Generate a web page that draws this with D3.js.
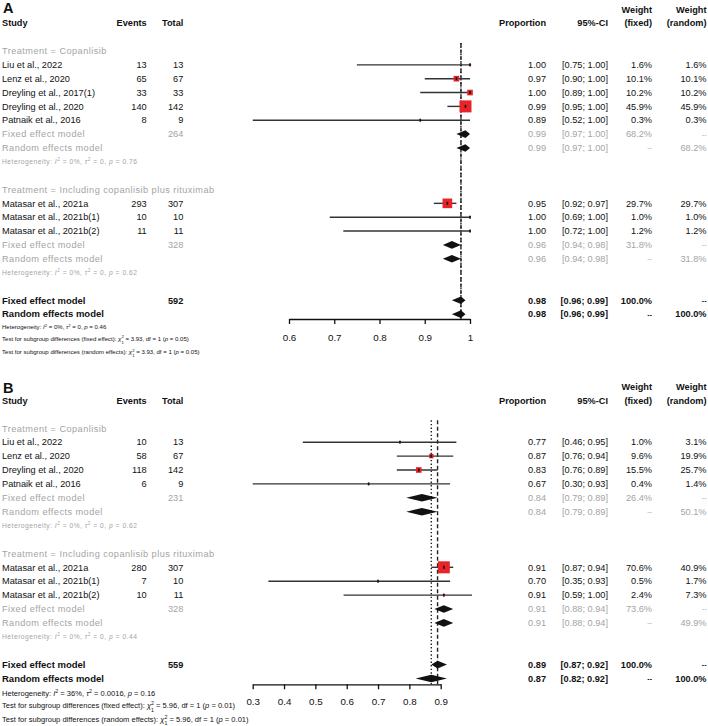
<!DOCTYPE html>
<html><head><meta charset="utf-8">
<script src="https://cdn.jsdelivr.net/npm/d3@7"></script>
<style>body{margin:0;background:#fff} text{font-family:"Liberation Sans",Arial,sans-serif}</style>
</head><body><svg id="chart" width="708" height="726"></svg>
<script>
// ---------------- Panel A data ----------------
const studiesA = ["Liu et al., 2022","Lenz et al., 2020","Dreyling et al., 2017(1)","Dreyling et al., 2020","Patnaik et al., 2016","Matasar et al., 2021a","Matasar et al., 2021b(1)","Matasar et al., 2021b(2)"];
const groupA = [0,0,0,0,0,1,1,1];
const eventsA = [13,65,33,140,8,293,10,11];
const totalsA = [13,67,33,142,9,307,10,11];
const propA = [1.00,0.97,1.00,0.99,0.89,0.95,1.00,1.00];
const lowerA = [0.75,0.90,0.89,0.95,0.52,0.92,0.69,0.72];
const upperA = [1.00,1.00,1.00,1.00,1.00,0.97,1.00,1.00];
const wFixedA = [1.6,10.1,10.2,45.9,0.3,29.7,1.0,1.2];
const wRandomA = [1.6,10.1,10.2,45.9,0.3,29.7,1.0,1.2];
const groupLabelsA = ["Treatment = Copanlisib","Treatment = Including copanlisib plus rituximab"];
const groupTotalA = [264,328];
const groupFixedA = [0.99,0.96], groupFixedLoA = [0.97,0.94], groupFixedHiA = [1.00,0.98], groupFixedWA = [68.2,31.8];
const groupRandA = [0.99,0.96], groupRandLoA = [0.97,0.94], groupRandHiA = [1.00,0.98], groupRandWA = [68.2,31.8];
const groupHetA = [["0%","0","0.76"],["0%","0","0.62"]];
const overallTotalA = 592;
const overallFixedA = [0.98,0.96,0.99], overallRandA = [0.98,0.96,0.99];
const overallHetA = ["0%","0","0.46"];
const testA = ["3.93","1","0.05"];
const ticksA = [0.6,0.7,0.8,0.9,1];

// ---------------- Panel B data ----------------
const studiesB = ["Liu et al., 2022","Lenz et al., 2020","Dreyling et al., 2020","Patnaik et al., 2016","Matasar et al., 2021a","Matasar et al., 2021b(1)","Matasar et al., 2021b(2)"];
const groupB = [0,0,0,0,1,1,1];
const eventsB = [10,58,118,6,280,7,10];
const totalsB = [13,67,142,9,307,10,11];
const propB = [0.77,0.87,0.83,0.67,0.91,0.70,0.91];
const lowerB = [0.46,0.76,0.76,0.30,0.87,0.35,0.59];
const upperB = [0.95,0.94,0.89,0.93,0.94,0.93,1.00];
const wFixedB = [1.0,9.6,15.5,0.4,70.6,0.5,2.4];
const wRandomB = [3.1,19.9,25.7,1.4,40.9,1.7,7.3];
const groupLabelsB = ["Treatment = Copanlisib","Treatment = Including copanlisib plus rituximab"];
const groupTotalB = [231,328];
const groupFixedB = [0.84,0.91], groupFixedLoB = [0.79,0.88], groupFixedHiB = [0.89,0.94], groupFixedWB = [26.4,73.6];
const groupRandB = [0.84,0.91], groupRandLoB = [0.79,0.88], groupRandHiB = [0.89,0.94], groupRandWB = [50.1,49.9];
const groupHetB = [["0%","0","0.62"],["0%","0","0.44"]];
const overallTotalB = 559;
const overallFixedB = [0.89,0.87,0.92], overallRandB = [0.87,0.82,0.92];
const overallHetB = ["36%","0.0016","0.16"];
const testB = ["5.96","1","0.01"];
const ticksB = [0.3,0.4,0.5,0.6,0.7,0.8,0.9];

// ---------------- rendering ----------------
const svg = d3.select("#chart");
const GRAY = "#a4a4a4", BLACK = "#111", RED = "#e8232a", LINE = "#333";
const FS = 9.2;
const cols = {study:2, events:146.7, total:183.3, prop:546, ci:608, wf:652, wr:706.5};
const f2 = v => v.toFixed(2);
const ciTxt = (l,u) => "[" + f2(l) + "; " + f2(u) + "]";
const pct = v => v.toFixed(1) + "%";

function txt(g, x, y, s, o = {}) {
  const t = g.append("text").attr("x", x).attr("y", y).attr("dy", "0.35em")
    .attr("font-size", o.fs || FS).attr("fill", o.fill || BLACK)
    .attr("text-anchor", o.anchor || "start").text(s);
  if (o.bold) t.attr("font-weight", "bold");
  if (o.ls) t.attr("letter-spacing", o.ls);
  return t;
}

function rich(g, x, y, segs, o) {
  const t = g.append("text").attr("x", x).attr("y", y).attr("dy", "0.35em")
    .attr("font-size", o.fs).attr("fill", o.fill);
  if (o.ls) t.attr("letter-spacing", o.ls);
  let level = 0;
  const up = o.fs * 0.45, down = o.fs * 0.45;
  segs.forEach(s => {
    const ts = t.append("tspan").text(s.t);
    let target = 0;
    if (s.sup) target = -up;
    if (s.sub) target = down;
    const dy = target - level;
    if (dy !== 0) ts.attr("dy", dy);
    level = target;
    if (s.sup || s.sub) ts.attr("font-size", o.fs * 0.7);
    if (s.it) ts.attr("font-style", "italic");
    if (s.dx) ts.attr("dx", s.dx);
  });
}

const hetSegs = h => [{t:"Heterogeneity: "},{t:"I",it:1},{t:"2",sup:1},{t:" = " + h[0] + ", "},{t:"τ",it:1},{t:"2",sup:1},{t:" = " + h[1] + ", "},{t:"p",it:1},{t:" = " + h[2]}];
const testSegs = (kind, tt, fs) => [{t:"Test for subgroup differences (" + kind + "): "},{t:"χ",it:1},{t:"2",sup:1},{t:"1",sub:1,dx:-fs*0.39},{t:" = " + tt[0] + ", df = " + tt[1] + " ("},{t:"p",it:1},{t:" = " + tt[2] + ")"}];

function drawPanel(P, C) {
  const g = svg.append("g");
  const x = d3.scaleLinear().domain(C.domain).range(C.range);
  const yRow = r => C.row0 + r * C.step;
  const size = d3.scaleSqrt().domain([0, d3.max(P.wFixed)]).range([0, 12]);

  // letter + headers
  txt(g, 3, C.letterY, C.letter, {fs: 14.5, bold: true});
  txt(g, cols.study, C.headY, "Study", {bold: true});
  txt(g, cols.events, C.headY, "Events", {bold: true, anchor: "end"});
  txt(g, cols.total, C.headY, "Total", {bold: true, anchor: "end"});
  txt(g, cols.prop, C.headY, "Proportion", {bold: true, anchor: "end"});
  txt(g, cols.ci, C.headY, "95%-CI", {bold: true, anchor: "end"});
  txt(g, cols.wf, C.weightY, "Weight", {bold: true, anchor: "end"});
  txt(g, cols.wf, C.headY, "(fixed)", {bold: true, anchor: "end"});
  txt(g, cols.wr, C.weightY, "Weight", {bold: true, anchor: "end"});
  txt(g, cols.wr, C.headY, "(random)", {bold: true, anchor: "end"});

  // rows
  const rows = [];
  let r = 0;
  P.groupLabels.forEach((gl, gi) => {
    rows.push({type: "glabel", row: r++, g: gi});
    P.studies.forEach((s, i) => { if (P.group[i] === gi) rows.push({type: "study", row: r++, i}); });
    rows.push({type: "gfixed", row: r++, g: gi});
    rows.push({type: "grand", row: r++, g: gi});
    rows.push({type: "ghet", row: r++, g: gi});
    r++;
  });
  rows.push({type: "ofixed", row: r++});
  rows.push({type: "orand", row: r++});

  // reference lines (drawn first)
  const refTop = yRow(0) - 8;
  g.append("line").attr("x1", x(P.overallFixed[0])).attr("x2", x(P.overallFixed[0]))
    .attr("y1", refTop).attr("y2", C.axisY).attr("stroke", "#222").attr("stroke-width", 1.4)
    .attr("stroke-dasharray", "4,2.5");
  g.append("line").attr("x1", x(P.overallRand[0])).attr("x2", x(P.overallRand[0]))
    .attr("y1", refTop).attr("y2", C.axisY).attr("stroke", "#222").attr("stroke-width", 1.4)
    .attr("stroke-dasharray", "1.4,2.2");

  const diamond = (est, lo, hi, y) => {
    const h = 3.8;
    g.append("path").attr("d", `M${x(lo)},${y}L${x(est)},${y - h}L${x(hi)},${y}L${x(est)},${y + h}Z`)
      .attr("fill", "#111");
  };
  const grayLabel = {fill: GRAY, ls: 0.45};

  rows.forEach(d => {
    const y = yRow(d.row);
    if (d.type === "glabel") {
      txt(g, cols.study, y, P.groupLabels[d.g], grayLabel);
    } else if (d.type === "study") {
      const i = d.i;
      txt(g, cols.study, y, P.studies[i]);
      txt(g, cols.events, y, P.events[i], {anchor: "end"});
      txt(g, cols.total, y, P.totals[i], {anchor: "end"});
      txt(g, cols.prop, y, f2(P.prop[i]), {anchor: "end"});
      txt(g, cols.ci, y, ciTxt(P.lower[i], P.upper[i]), {anchor: "end"});
      txt(g, cols.wf, y, pct(P.wFixed[i]), {anchor: "end"});
      txt(g, cols.wr, y, pct(P.wRandom[i]), {anchor: "end"});
      g.append("line").attr("x1", x(P.lower[i])).attr("x2", x(P.upper[i]))
        .attr("y1", y).attr("y2", y).attr("stroke", LINE).attr("stroke-width", 1.4);
      const s = Math.max(size(P.wFixed[i]), 1.6);
      g.append("rect").attr("x", x(P.prop[i]) - s / 2).attr("y", y - s / 2)
        .attr("width", s).attr("height", s).attr("fill", RED);
      g.append("rect").attr("x", x(P.prop[i]) - 0.8).attr("y", y - 1.5)
        .attr("width", 1.6).attr("height", 3).attr("fill", "#111");
    } else if (d.type === "gfixed") {
      txt(g, cols.study, y, "Fixed effect model", grayLabel);
      txt(g, cols.total, y, P.groupTotal[d.g], {anchor: "end", fill: GRAY});
      txt(g, cols.prop, y, f2(P.gFixed[d.g]), {anchor: "end", fill: GRAY});
      txt(g, cols.ci, y, ciTxt(P.gFixedLo[d.g], P.gFixedHi[d.g]), {anchor: "end", fill: GRAY});
      txt(g, cols.wf, y, pct(P.gFixedW[d.g]), {anchor: "end", fill: GRAY});
      txt(g, cols.wr, y, "--", {anchor: "end", fill: GRAY, fs: 7});
      diamond(P.gFixed[d.g], P.gFixedLo[d.g], P.gFixedHi[d.g], y);
    } else if (d.type === "grand") {
      txt(g, cols.study, y, "Random effects model", grayLabel);
      txt(g, cols.prop, y, f2(P.gRand[d.g]), {anchor: "end", fill: GRAY});
      txt(g, cols.ci, y, ciTxt(P.gRandLo[d.g], P.gRandHi[d.g]), {anchor: "end", fill: GRAY});
      txt(g, cols.wf, y, "--", {anchor: "end", fill: GRAY, fs: 7});
      txt(g, cols.wr, y, pct(P.gRandW[d.g]), {anchor: "end", fill: GRAY});
      diamond(P.gRand[d.g], P.gRandLo[d.g], P.gRandHi[d.g], y);
    } else if (d.type === "ghet") {
      rich(g, cols.study, y, hetSegs(P.groupHet[d.g]), {fs: 6.7, fill: GRAY, ls: 0.5});
    } else if (d.type === "ofixed") {
      const o = P.overallFixed;
      txt(g, cols.study, y, "Fixed effect model", {bold: true, fs: 9.5});
      txt(g, cols.total, y, P.overallTotal, {anchor: "end", bold: true});
      txt(g, cols.prop, y, f2(o[0]), {anchor: "end", bold: true});
      txt(g, cols.ci, y, ciTxt(o[1], o[2]), {anchor: "end", bold: true});
      txt(g, cols.wf, y, "100.0%", {anchor: "end", bold: true});
      txt(g, cols.wr, y, "--", {anchor: "end", bold: true, fs: 7});
      diamond(o[0], o[1], o[2], y);
    } else if (d.type === "orand") {
      const o = P.overallRand;
      txt(g, cols.study, y, "Random effects model", {bold: true, fs: 9.5});
      txt(g, cols.prop, y, f2(o[0]), {anchor: "end", bold: true});
      txt(g, cols.ci, y, ciTxt(o[1], o[2]), {anchor: "end", bold: true});
      txt(g, cols.wf, y, "--", {anchor: "end", bold: true, fs: 7});
      txt(g, cols.wr, y, "100.0%", {anchor: "end", bold: true});
      diamond(o[0], o[1], o[2], y);
    }
  });

  // footer text
  const fsS = C.fsSmall;
  rich(g, cols.study, C.foot[0], hetSegs(P.overallHet), {fs: fsS, fill: BLACK});
  rich(g, cols.study, C.foot[1], testSegs("fixed effect", P.test, fsS), {fs: fsS, fill: BLACK});
  rich(g, cols.study, C.foot[2], testSegs("random effects", P.test, fsS), {fs: fsS, fill: BLACK});

  // axis
  const ax = g.append("g").attr("transform", `translate(0,${C.axisY})`)
    .call(d3.axisBottom(x).tickValues(P.ticks).tickSize(5).tickSizeOuter(0).tickPadding(C.tickPad)
      .tickFormat(v => v === 1 ? "1" : v.toFixed(1)));
  ax.select(".domain").attr("stroke", "#111").attr("stroke-width", 1.3);
  ax.selectAll(".tick line").attr("stroke", "#111").attr("stroke-width", 1.3);
  ax.selectAll(".tick text").attr("font-size", 9.8).attr("fill", BLACK)
    .attr("font-family", "Liberation Sans, Arial, sans-serif");
}

const PA = {studies: studiesA, group: groupA, events: eventsA, totals: totalsA, prop: propA, lower: lowerA, upper: upperA,
  wFixed: wFixedA, wRandom: wRandomA, groupLabels: groupLabelsA, groupTotal: groupTotalA,
  gFixed: groupFixedA, gFixedLo: groupFixedLoA, gFixedHi: groupFixedHiA, gFixedW: groupFixedWA,
  gRand: groupRandA, gRandLo: groupRandLoA, gRandHi: groupRandHiA, gRandW: groupRandWA,
  groupHet: groupHetA, overallTotal: overallTotalA, overallFixed: overallFixedA, overallRand: overallRandA,
  overallHet: overallHetA, test: testA, ticks: ticksA};
const PB = {studies: studiesB, group: groupB, events: eventsB, totals: totalsB, prop: propB, lower: lowerB, upper: upperB,
  wFixed: wFixedB, wRandom: wRandomB, groupLabels: groupLabelsB, groupTotal: groupTotalB,
  gFixed: groupFixedB, gFixedLo: groupFixedLoB, gFixedHi: groupFixedHiB, gFixedW: groupFixedWB,
  gRand: groupRandB, gRandLo: groupRandLoB, gRandHi: groupRandHiB, gRandW: groupRandWB,
  groupHet: groupHetB, overallTotal: overallTotalB, overallFixed: overallFixedB, overallRand: overallRandB,
  overallHet: overallHetB, test: testB, ticks: ticksB};

drawPanel(PA, {letter: "A", letterY: 8, headY: 23, weightY: 9.5, row0: 51, step: 13.85, fsSmall: 6.05,
  domain: [0.6, 1], range: [289, 470], axisY: 319, tickPad: 10, foot: [327.3, 338.7, 352.3]});
drawPanel(PB, {letter: "B", letterY: 388, headY: 400.7, weightY: 386.7, row0: 428.3, step: 13.9, fsSmall: 7.55,
  domain: [0.3, 0.9], range: [252.7, 440.7], axisY: 684.3, tickPad: 8.5, foot: [693.3, 705.7, 719.3]});
</script></body></html>
